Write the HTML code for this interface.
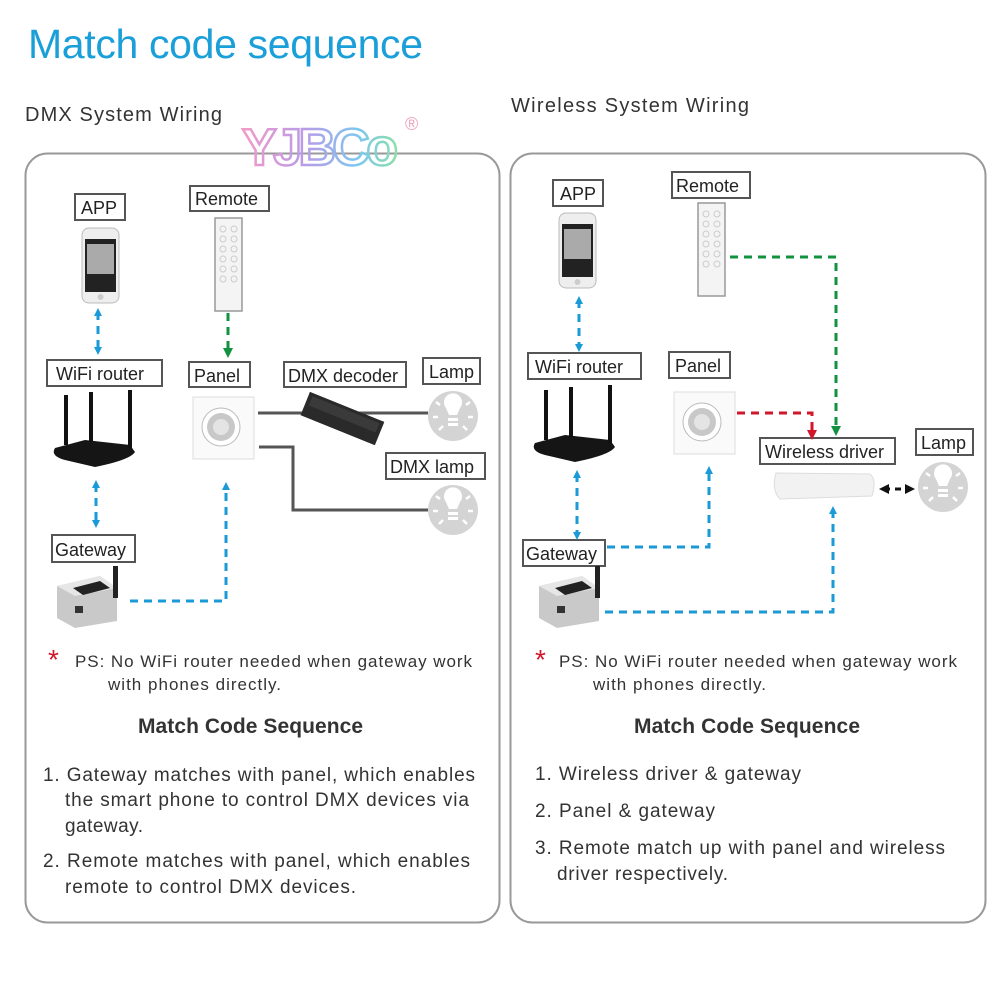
<!DOCTYPE html>
<html><head><meta charset="utf-8"><style>
html,body{margin:0;padding:0;background:#fff;}
svg{display:block;font-family:"Liberation Sans",sans-serif;}
</style></head><body>
<svg width="1000" height="1000" viewBox="0 0 1000 1000" xmlns="http://www.w3.org/2000/svg">
<defs>
<linearGradient id="lg" x1="0" x2="1" y1="0" y2="0">
<stop offset="0" stop-color="#f49ac8"/><stop offset="0.4" stop-color="#b99be8"/><stop offset="0.75" stop-color="#7cc8f0"/><stop offset="1" stop-color="#8de0a8"/>
</linearGradient>
<marker id="ab" markerWidth="8" markerHeight="8" refX="4" refY="4" orient="auto-start-reverse" markerUnits="userSpaceOnUse"><path d="M0,0 L8,4 L0,8 z" fill="#1a9ad6"/></marker>
<marker id="ag" markerWidth="10" markerHeight="10" refX="5" refY="5" orient="auto" markerUnits="userSpaceOnUse"><path d="M0,0 L10,5 L0,10 z" fill="#12913f"/></marker>
<marker id="ar" markerWidth="10" markerHeight="10" refX="5" refY="5" orient="auto" markerUnits="userSpaceOnUse"><path d="M0,0 L10,5 L0,10 z" fill="#d2172a"/></marker>
<marker id="ak" markerWidth="10" markerHeight="10" refX="5" refY="5" orient="auto-start-reverse" markerUnits="userSpaceOnUse"><path d="M0,0 L10,5 L0,10 z" fill="#111"/></marker>
<g id="bulb"><circle r="25" fill="#d4d4d4"/><path d="M-7,-8 a9,9 0 1 1 14,0 l-3,7 h-8 z" fill="#fff"/><rect x="-5" y="2" width="10" height="3" fill="#fff"/><rect x="-5" y="7" width="10" height="3" fill="#fff"/>
<g stroke="#fff" stroke-width="2.5"><line x1="0" y1="-22" x2="0" y2="-17"/><line x1="-17" y1="-14" x2="-13" y2="-11"/><line x1="17" y1="-14" x2="13" y2="-11"/><line x1="-20" y1="1" x2="-15" y2="1"/><line x1="20" y1="1" x2="15" y2="1"/><line x1="-14" y1="14" x2="-10" y2="10"/><line x1="14" y1="14" x2="10" y2="10"/></g></g>
<g id="phone"><rect x="0" y="0" width="37" height="75" rx="7" fill="#eee" stroke="#bbb"/><rect x="3" y="11" width="31" height="53" fill="#222"/><rect x="5" y="16" width="27" height="30" fill="#aaa"/><circle cx="18.5" cy="69" r="3" fill="#ccc"/></g>
<g id="remote"><rect x="0" y="0" width="27" height="93" fill="#f4f4f4" stroke="#999" stroke-width="1.5"/>
<g fill="none" stroke="#ccc"><circle cx="8" cy="11" r="3"/><circle cx="19" cy="11" r="3"/><circle cx="8" cy="21" r="3"/><circle cx="19" cy="21" r="3"/><circle cx="8" cy="31" r="3"/><circle cx="19" cy="31" r="3"/><circle cx="8" cy="41" r="3"/><circle cx="19" cy="41" r="3"/><circle cx="8" cy="51" r="3"/><circle cx="19" cy="51" r="3"/><circle cx="8" cy="61" r="3"/><circle cx="19" cy="61" r="3"/></g></g>
<g id="router"><path d="M5,58 Q0,66 15,70 L45,77 Q80,70 85,62 L80,55 L35,50 Z" fill="#151515"/><rect x="14" y="5" width="4" height="50" fill="#111"/><rect x="39" y="2" width="4" height="50" fill="#111"/><rect x="78" y="0" width="4" height="58" fill="#111"/></g>
<g id="panel"><rect x="0" y="0" width="61" height="62" fill="#fafafa" stroke="#ddd"/><circle cx="28" cy="30" r="19" fill="#fff" stroke="#bbb"/><circle cx="28" cy="30" r="14" fill="#c8c8c8"/><circle cx="28" cy="30" r="8" fill="#e4e4e4"/></g>
<g id="gw"><path d="M2,20 L45,10 L62,22 L62,55 L20,62 L2,52 Z" fill="#c9c9c9"/><path d="M2,20 L45,10 L62,22 L20,30 Z" fill="#e6e6e6"/><path d="M18,22 L45,15 L55,22 L28,29 Z" fill="#222"/><rect x="58" y="0" width="5" height="32" fill="#222"/><rect x="20" y="40" width="8" height="7" fill="#333"/></g>
</defs>

<text x="28" y="58" font-size="41" fill="#1a9fd8" textLength="395">Match code sequence</text>
<text x="25" y="121" font-size="20" fill="#333" textLength="197">DMX System Wiring</text>
<text x="511" y="112" font-size="20" fill="#333" textLength="238">Wireless System Wiring</text>

<rect x="25.5" y="153.5" width="474" height="769" rx="22" fill="none" stroke="#999" stroke-width="2"/>
<rect x="510.5" y="153.5" width="475" height="769" rx="22" fill="none" stroke="#999" stroke-width="2"/>

<text x="242" y="165" font-size="52" font-weight="bold" fill="none" stroke="url(#lg)" stroke-width="2.5" textLength="156">YJBCo</text>
<text x="405" y="130" font-size="18" fill="#f0a0b8">®</text>

<g font-size="18" fill="#222">
<!-- left labels -->
<rect x="75" y="194" width="50" height="26" fill="#fff" stroke="#555" stroke-width="2"/><text x="81" y="214">APP</text>
<rect x="190" y="186" width="79" height="25" fill="#fff" stroke="#555" stroke-width="2"/><text x="195" y="205">Remote</text>
<rect x="47" y="360" width="115" height="26" fill="#fff" stroke="#555" stroke-width="2"/><text x="56" y="380">WiFi router</text>
<rect x="52" y="535" width="83" height="27" fill="#fff" stroke="#555" stroke-width="2"/><text x="55" y="556">Gateway</text>
<rect x="189" y="362" width="61" height="25" fill="#fff" stroke="#555" stroke-width="2"/><text x="194" y="382">Panel</text>
<rect x="284" y="362" width="122" height="25" fill="#fff" stroke="#555" stroke-width="2"/><text x="288" y="382">DMX decoder</text>
<rect x="423" y="358" width="57" height="26" fill="#fff" stroke="#555" stroke-width="2"/><text x="429" y="378">Lamp</text>
<rect x="386" y="453" width="99" height="26" fill="#fff" stroke="#555" stroke-width="2"/><text x="390" y="473">DMX lamp</text>
<!-- right labels -->
<rect x="553" y="180" width="50" height="26" fill="#fff" stroke="#555" stroke-width="2"/><text x="560" y="200">APP</text>
<rect x="672" y="172" width="78" height="26" fill="#fff" stroke="#555" stroke-width="2"/><text x="676" y="192">Remote</text>
<rect x="528" y="353" width="113" height="26" fill="#fff" stroke="#555" stroke-width="2"/><text x="535" y="373">WiFi router</text>
<rect x="523" y="540" width="82" height="26" fill="#fff" stroke="#555" stroke-width="2"/><text x="526" y="560">Gateway</text>
<rect x="669" y="352" width="61" height="26" fill="#fff" stroke="#555" stroke-width="2"/><text x="675" y="372">Panel</text>
<rect x="760" y="438" width="135" height="26" fill="#fff" stroke="#555" stroke-width="2"/><text x="765" y="458">Wireless driver</text>
<rect x="916" y="429" width="57" height="26" fill="#fff" stroke="#555" stroke-width="2"/><text x="921" y="449">Lamp</text>
</g>

<!-- left devices -->
<use href="#phone" x="82" y="228"/>
<use href="#remote" x="215" y="218"/>
<use href="#router" x="50" y="390"/>
<use href="#gw" x="55" y="566"/>
<use href="#panel" x="193" y="397"/>
<g transform="translate(310,392) rotate(22)"><rect x="0" y="0" width="80" height="25" fill="#2a2a2a"/><rect x="0" y="0" width="80" height="8" fill="#444"/></g>
<path d="M258,413 H428" stroke="#555" stroke-width="3" fill="none"/>
<path d="M259,447 H293 V510 H428" stroke="#555" stroke-width="3" fill="none"/>
<g transform="translate(310,392) rotate(22)"><rect x="0" y="0" width="80" height="25" fill="#2a2a2a"/><rect x="4" y="3" width="72" height="10" fill="#3a3a3a"/></g>
<use href="#bulb" x="453" y="416"/>
<use href="#bulb" x="453" y="510"/>

<g fill="none" stroke-width="3" stroke-dasharray="8,6">
<path d="M98,312 V351" stroke="#1a9ad6" marker-start="url(#ab)" marker-end="url(#ab)"/>
<path d="M96,484 V524" stroke="#1a9ad6" marker-start="url(#ab)" marker-end="url(#ab)"/>
<path d="M130,601 H226 V486" stroke="#1a9ad6" marker-end="url(#ab)"/>
<path d="M228,313 V353" stroke="#12913f" marker-end="url(#ag)"/>
</g>

<!-- right devices -->
<use href="#phone" x="559" y="213"/>
<use href="#remote" x="698" y="203"/>
<use href="#router" x="530" y="385"/>
<use href="#gw" x="537" y="566"/>
<use href="#panel" x="674" y="392"/>
<path d="M776,473 L870,474 Q877,480 872,496 L780,499 Q771,490 776,473 Z" fill="#f2f2f2" stroke="#ddd"/>
<use href="#bulb" x="943" y="487"/>

<g fill="none" stroke-width="3" stroke-dasharray="8,6">
<path d="M579,300 V348" stroke="#1a9ad6" marker-start="url(#ab)" marker-end="url(#ab)"/>
<path d="M577,474 V536" stroke="#1a9ad6" marker-start="url(#ab)" marker-end="url(#ab)"/>
<path d="M607,547 H709 V470" stroke="#1a9ad6" marker-end="url(#ab)"/>
<path d="M605,612 H833 V510" stroke="#1a9ad6" marker-end="url(#ab)"/>
<path d="M737,413 H812 V435" stroke="#d2172a" marker-end="url(#ar)"/>
<path d="M730,257 H836 V431" stroke="#12913f" marker-end="url(#ag)"/>
<path d="M884,489 H910" stroke="#111" stroke-dasharray="6,5" marker-start="url(#ak)" marker-end="url(#ak)"/>
</g>

<!-- lower text -->
<g font-size="17" fill="#333">
<text x="48" y="669" font-size="28" fill="#d2172a">*</text>
<text x="75" y="667" textLength="397">PS: No WiFi router needed when gateway work</text>
<text x="108" y="690" textLength="173">with phones directly.</text>
<text x="535" y="669" font-size="28" fill="#d2172a">*</text>
<text x="559" y="667" textLength="398">PS: No WiFi router needed when gateway work</text>
<text x="593" y="690" textLength="173">with phones directly.</text>
</g>
<g font-size="21" font-weight="bold" fill="#333">
<text x="138" y="733" textLength="225">Match Code Sequence</text>
<text x="634" y="733" textLength="226">Match Code Sequence</text>
</g>
<g font-size="19" fill="#333">
<text x="43" y="781" textLength="432">1. Gateway matches with panel, which enables</text>
<text x="65" y="806" textLength="404">the smart phone to control DMX devices via</text>
<text x="65" y="832" textLength="78">gateway.</text>
<text x="43" y="867" textLength="427">2. Remote matches with panel, which enables</text>
<text x="65" y="893" textLength="291">remote to control DMX devices.</text>
<text x="535" y="780" textLength="266">1. Wireless driver &amp; gateway</text>
<text x="535" y="817" textLength="180">2. Panel &amp; gateway</text>
<text x="535" y="854" textLength="410">3. Remote match up with panel and wireless</text>
<text x="557" y="880" textLength="171">driver respectively.</text>
</g>
</svg>
</body></html>
